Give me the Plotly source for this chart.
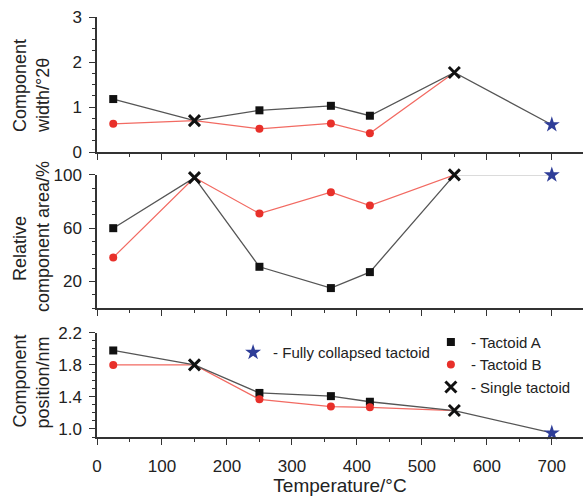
import plotly.graph_objects as go
from plotly.subplots import make_subplots

# ---------------- data ----------------
temp_tactoid = [25, 250, 360, 420]      # °C, points with two tactoids (A and B)
temp_single = [150, 550]                # °C, single tactoid points
temp_collapsed = [700]                  # °C, fully collapsed tactoid

width_A = [1.18, 0.93, 1.03, 0.81]
width_B = [0.63, 0.52, 0.64, 0.42]
width_single = [0.70, 1.77]
width_collapsed = [0.61]

area_A = [60, 31, 15, 27]
area_B = [38, 71, 87, 77]
area_single = [98, 100]
area_collapsed = [100]

pos_A = [1.98, 1.45, 1.41, 1.34]
pos_B = [1.80, 1.37, 1.28, 1.27]
pos_single = [1.80, 1.23]
pos_collapsed = [0.95]

x_ticks = [0, 100, 200, 300, 400, 500, 600, 700]

# y-axis titles: (line 1, line 2) for each panel, top to bottom
y_titles = [("Component", "width/°2θ"),
            ("Relative", "component area/%"),
            ("Component", "position/nm")]
x_title = "Temperature/°C"

# ---------------- style ----------------
FONT = "Liberation Sans, Arial, Helvetica, sans-serif"
BLACK = "#111111"
RED = "#e8302a"
RED_LINE = "#f26a62"
GRAY_LINE = "#555555"
LIGHT_LINE = "#b8b8b8"
BLUE = "#2e3d98"
AXIS = "#333333"
TEXT = "#222222"


def chain(*pairs):
    pts = []
    for xs, ys in pairs:
        pts.extend(zip(xs, ys))
    pts.sort(key=lambda p: p[0])
    return [p[0] for p in pts], [p[1] for p in pts]


fig = make_subplots(rows=3, cols=1, shared_xaxes=True)

panels = [
    (1, width_A, width_B, width_single, width_collapsed, False),
    (2, area_A, area_B, area_single, area_collapsed, True),
    (3, pos_A, pos_B, pos_single, pos_collapsed, False),
]

for row, ya, yb, ys, yc, light_tail in panels:
    # red (tactoid B) line
    rx, ry = chain((temp_tactoid, yb), (temp_single, ys))
    fig.add_trace(go.Scatter(x=rx, y=ry, mode="lines", line=dict(color=RED_LINE, width=1.2),
                             showlegend=False, hoverinfo="skip", cliponaxis=False), row=row, col=1)
    # black (tactoid A) line
    if light_tail:
        bx, by = chain((temp_tactoid, ya), (temp_single, ys))
        fig.add_trace(go.Scatter(x=[temp_single[-1], temp_collapsed[0]], y=[ys[-1], yc[0]], mode="lines",
                                 line=dict(color=LIGHT_LINE, width=1.3), cliponaxis=False,
                                 showlegend=False, hoverinfo="skip"), row=row, col=1)
    else:
        bx, by = chain((temp_tactoid, ya), (temp_single, ys), (temp_collapsed, yc))
    fig.add_trace(go.Scatter(x=bx, y=by, mode="lines", line=dict(color=GRAY_LINE, width=1.3),
                             showlegend=False, hoverinfo="skip", cliponaxis=False), row=row, col=1)

    show = row == 3
    fig.add_trace(go.Scatter(x=temp_tactoid, y=ya, mode="markers", name="- Tactoid A",
                             marker=dict(symbol="square", size=8, color=BLACK), cliponaxis=False,
                             showlegend=show, legend="legend"), row=row, col=1)
    fig.add_trace(go.Scatter(x=temp_tactoid, y=yb, mode="markers", name="- Tactoid B",
                             marker=dict(symbol="circle", size=8, color=RED), cliponaxis=False,
                             showlegend=show, legend="legend"), row=row, col=1)
    fig.add_trace(go.Scatter(x=temp_single, y=ys, mode="markers", name="- Single tactoid",
                             marker=dict(symbol="x-thin", size=11, color=BLACK,
                                         line=dict(width=3, color=BLACK)), cliponaxis=False,
                             showlegend=show, legend="legend"), row=row, col=1)
    fig.add_trace(go.Scatter(x=temp_collapsed, y=yc, mode="markers", name="- Fully collapsed tactoid",
                             marker=dict(symbol="star", size=12, color=BLUE), cliponaxis=False,
                             showlegend=show, legend="legend2"), row=row, col=1)

axis_common = dict(
    showline=True, linecolor=AXIS, linewidth=1.5, showgrid=False, zeroline=False,
    ticks="outside", ticklen=6, tickwidth=1.2, tickcolor=AXIS, automargin=False,
    tickfont=dict(family=FONT, size=17, color=TEXT),
)

for r in (1, 2, 3):
    fig.update_xaxes(
        range=[0, 748], tickvals=x_ticks, ticklabelstandoff=7,
        minor=dict(dtick=50, tick0=0, ticks="outside", ticklen=3, tickcolor=AXIS),
        showticklabels=(r == 3), row=r, col=1, **axis_common)

fig.update_xaxes(title=dict(text=x_title, font=dict(family=FONT, size=19, color=TEXT),
                            standoff=6), row=3, col=1)

fig.update_yaxes(range=[0, 3], dtick=1, tick0=0, ticklabelstandoff=4,
                 minor=dict(dtick=0.25, tick0=0, ticks="outside", ticklen=3, tickcolor=AXIS),
                 row=1, col=1, **axis_common)
fig.update_yaxes(range=[0, 100], dtick=40, tick0=20, ticklabelstandoff=4,
                 minor=dict(dtick=10, tick0=0, ticks="outside", ticklen=3, tickcolor=AXIS),
                 row=2, col=1, **axis_common)
fig.update_yaxes(range=[0.9, 2.2], dtick=0.4, tick0=1.0, tickformat=".1f", ticklabelstandoff=4,
                 minor=dict(dtick=0.1, tick0=1.0, ticks="outside", ticklen=3, tickcolor=AXIS),
                 row=3, col=1, **axis_common)

# y-axis titles as rotated text (two lines each, positioned per line)
title_pos = [(0.8357, 0.8119), (0.4476, 0.476), (0.1321, 0.1298)]
line_x = (-0.1584, -0.1111)
for (l1, l2), (y1, y2) in zip(y_titles, title_pos):
    for txt, xx, yy in ((l1, line_x[0], y1), (l2, line_x[1], y2)):
        fig.add_annotation(text=txt, xref="paper", yref="paper", x=xx, y=yy,
                           xanchor="center", yanchor="middle", textangle=-90, showarrow=False,
                           font=dict(family=FONT, size=18, color=TEXT))

fig.update_layout(
    width=583, height=496,
    margin=dict(l=97, r=0, t=17, b=59, autoexpand=False),
    paper_bgcolor="white", plot_bgcolor="white",
    font=dict(family=FONT, color=TEXT),
    yaxis=dict(domain=[0.678, 1.0]),
    yaxis2=dict(domain=[0.307, 0.624]),
    yaxis3=dict(domain=[0.0, 0.248]),
    legend=dict(x=0.687, y=0.265, xanchor="left", yanchor="top", bgcolor="rgba(0,0,0,0)",
                font=dict(family=FONT, size=15, color=TEXT), itemwidth=30,
                tracegroupgap=0),
    legend2=dict(x=0.28, y=0.24, xanchor="left", yanchor="top", bgcolor="rgba(0,0,0,0)",
                 font=dict(family=FONT, size=15, color=TEXT), itemwidth=30),
    showlegend=True,
)

fig.write_html("out.html", config={"displayModeBar": False},
               post_script="document.body.style.margin='0';")
